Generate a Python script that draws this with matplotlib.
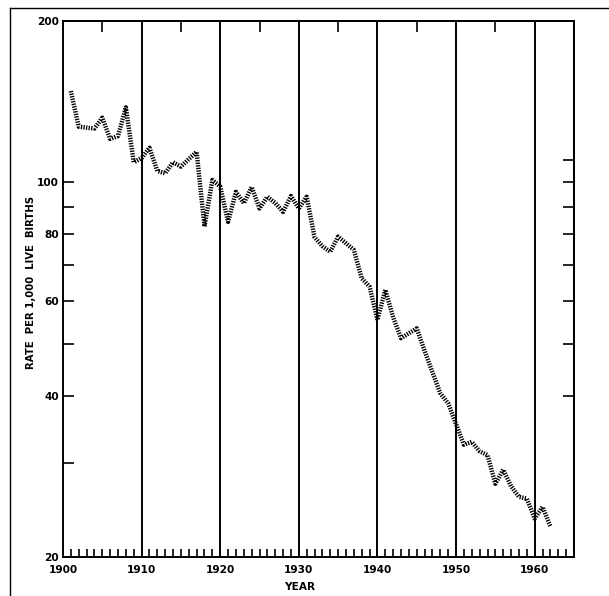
#!/usr/bin/env python3
import matplotlib
matplotlib.use("Agg")
import matplotlib.pyplot as plt
from matplotlib.lines import Line2D
from matplotlib.ticker import FixedLocator, NullFormatter, FixedFormatter

# rate per 1,000 live births
years = list(range(1901, 1963))
rate = [148, 127, 126.5, 126, 132, 120.5, 122, 138, 109, 111,
        116, 105, 104, 109, 107, 110.5, 114, 82.7, 101, 98.2,
        84.4, 96, 91.4, 98, 89.4, 94, 91.5, 88.1, 94.3, 89.4,
        94, 79, 76, 74.2, 79.2, 77, 74.8, 66.2, 63.9, 55.4,
        63, 56, 51.2, 52.3, 53.4, 48.5, 44.2, 40.4, 38.7, 35.4,
        32.4, 32.8, 31.5, 31.0, 27.4, 29.1, 27.1, 25.9, 25.7, 23.6,
        24.8, 22.8]

decades = [1910, 1920, 1930, 1940, 1950, 1960]
xlabels = ["1900", "1910", "1920", "1930", "1940", "1950", "1960"]
ylabels = [20, 40, 60, 80, 100, 200]

fig = plt.figure(figsize=(6.09, 5.96), dpi=100)
ax = fig.add_axes([0.1034, 0.0654, 0.8391, 0.8994])
ax.set_yscale("log")
ax.set_xlim(1900, 1965)
ax.set_ylim(20, 200)

for d in decades:
    ax.axvline(d, color="black", lw=1.4, zorder=1)

# the thick dotted data line
ax.plot(years, rate, color="black", lw=3.2, dashes=(0.3, 0.28),
        solid_capstyle="butt", dash_capstyle="butt", zorder=3)

tick_font = dict(fontsize=7.6, fontweight="bold", family="DejaVu Sans")

# bottom axis: decade labels, yearly inward ticks
ax.xaxis.set_major_locator(FixedLocator([1900] + decades))
ax.xaxis.set_major_formatter(FixedFormatter(xlabels))
ax.xaxis.set_minor_locator(FixedLocator([y for y in range(1901, 1965) if y % 10 != 0]))
ax.tick_params(axis="x", which="major", direction="in", length=0, pad=6)
ax.tick_params(axis="x", which="minor", direction="in", length=6, width=1.2)
for lab in ax.get_xticklabels():
    lab.set(**tick_font)

# left axis: labelled values, inward ticks
ax.yaxis.set_major_locator(FixedLocator(ylabels))
ax.yaxis.set_major_formatter(FixedFormatter([str(v) for v in ylabels]))
ax.yaxis.set_minor_locator(FixedLocator([30, 50, 70, 90]))
ax.yaxis.set_minor_formatter(NullFormatter())
ax.tick_params(axis="y", which="both", direction="in", length=8, width=1.2, pad=3)
for lab in ax.get_yticklabels():
    lab.set(**tick_font)

# top ticks at mid-decades
top = ax.secondary_xaxis("top")
top.set_xticks([1905, 1915, 1925, 1935, 1945, 1955])
top.tick_params(direction="in", length=8, width=1.2, labeltop=False)

# right ticks
right = ax.secondary_yaxis("right")
right.yaxis.set_major_locator(FixedLocator([40, 50, 60, 70, 80, 90, 100, 110]))
right.yaxis.set_minor_locator(FixedLocator([]))
right.tick_params(direction="in", length=8, width=1.2, labelright=False)

for s in ax.spines.values():
    s.set_linewidth(1.4)
for s in top.spines.values():
    s.set_linewidth(1.4)
for s in right.spines.values():
    s.set_linewidth(1.4)

fig.text(300 / 609, 1 - 587 / 596, "YEAR", ha="center", va="center",
         fontsize=7.6, fontweight="bold")
fig.text(31 / 609, 1 - 282 / 596, "RATE  PER 1,000  LIVE  BIRTHS", ha="center",
         va="center", rotation=90, fontsize=7.3, fontweight="bold")

# page frame on the scan
fig.add_artist(Line2D([10 / 609, 1.0], [1 - 8 / 596, 1 - 8 / 596],
                      transform=fig.transFigure, color="black", lw=1.0))
fig.add_artist(Line2D([10 / 609, 10 / 609], [0.0, 1 - 8 / 596],
                      transform=fig.transFigure, color="black", lw=1.0))

fig.savefig("out.png", dpi=100)
